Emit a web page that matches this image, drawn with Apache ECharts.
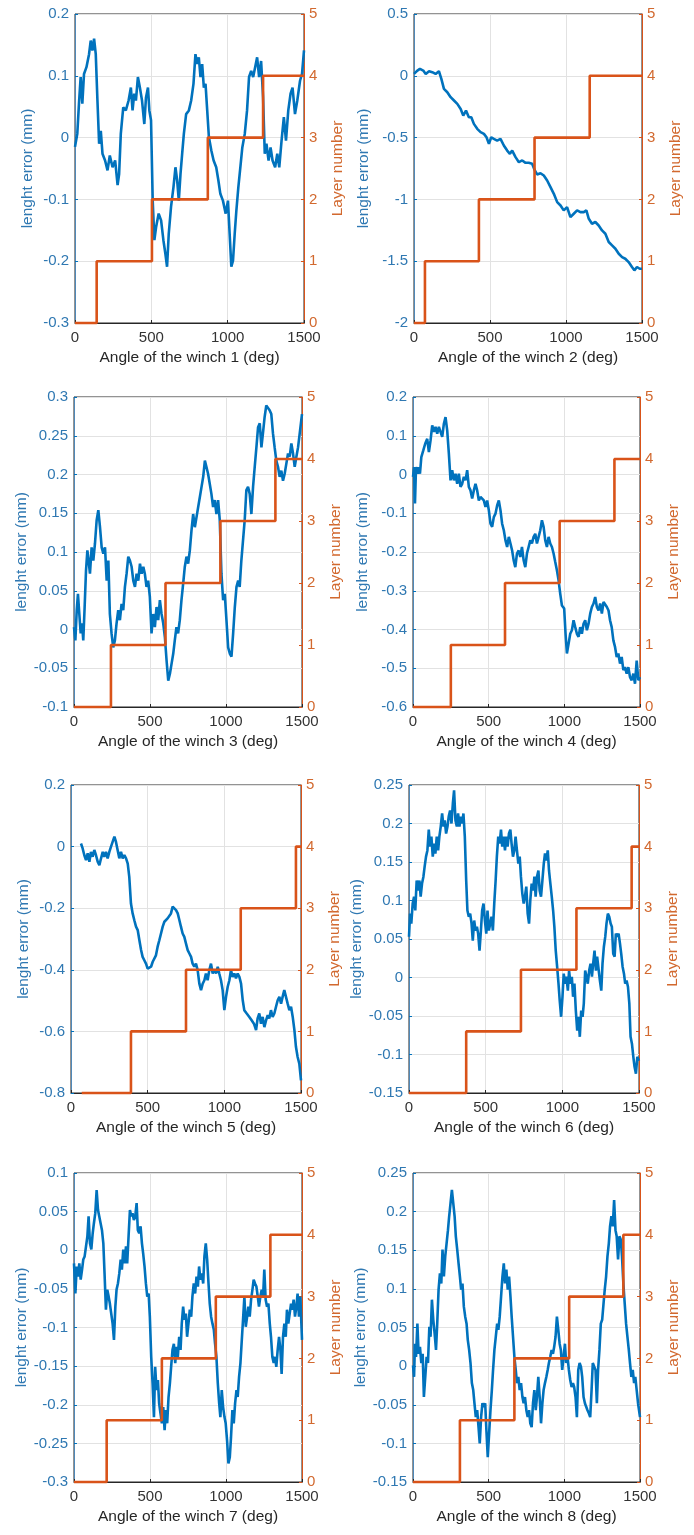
<!DOCTYPE html>
<html>
<head>
<meta charset="utf-8">
<script src="https://cdn.jsdelivr.net/npm/echarts@6/dist/echarts.min.js"></script>
<style>
html,body{margin:0;padding:0;background:#fff;}
#chart{width:694px;height:1535px;}
</style>
</head>
<body>
<div id="chart"></div>
<script>
// ---------- DATA ----------
const angle1 = [0,15,26,37,48,59,75,92,103,114,125,136,147,158,169,180,197,213,228,246,263,279,289,300,316,333,351,366,377,388,399,412,425,439,454,465,478,487,498,509,520,531,548,564,579,592,603,614,629,645,658,669,680,691,702,713,728,746,761,776,789,800,811,822,833,844,855,866,877,893,908,925,939,952,969,987,1002,1013,1024,1035,1046,1057,1070,1083,1096,1112,1127,1140,1154,1167,1180,1193,1206,1219,1232,1243,1254,1268,1281,1294,1311,1325,1338,1353,1368,1382,1397,1412,1425,1441,1456,1474,1487,1500];
const error1 = [-0.015,0.006,0.055,0.098,0.055,0.103,0.114,0.135,0.157,0.141,0.160,0.135,0.060,-0.010,0.011,-0.026,-0.037,-0.053,-0.029,-0.048,-0.037,-0.077,-0.059,0.006,0.049,0.044,0.060,0.081,0.044,0.071,0.060,0.098,0.081,0.060,0.022,0.065,0.081,0.044,0.028,-0.102,-0.166,-0.145,-0.123,-0.134,-0.166,-0.188,-0.209,-0.156,-0.112,-0.080,-0.048,-0.069,-0.102,-0.059,-0.026,0.006,0.038,0.044,0.060,0.087,0.135,0.119,0.130,0.098,0.119,0.081,0.087,0.044,0.001,-0.021,-0.037,-0.048,-0.069,-0.091,-0.102,-0.123,-0.102,-0.156,-0.209,-0.199,-0.156,-0.118,-0.080,-0.048,-0.016,0.006,0.044,0.098,0.108,0.098,0.114,0.130,0.098,0.124,0.065,-0.026,-0.010,-0.037,-0.016,-0.037,-0.048,-0.026,-0.048,-0.005,0.033,-0.005,0.044,0.071,0.081,0.038,0.060,0.092,0.103,0.141];

const angle2 = [0,22,39,61,77,99,120,142,164,180,197,219,241,263,285,307,324,342,361,377,394,416,438,460,477,493,508,525,547,569,591,613,631,646,668,690,712,734,755,777,795,810,832,854,876,898,920,942,964,985,1007,1029,1051,1073,1095,1117,1134,1150,1171,1193,1215,1237,1259,1281,1303,1325,1347,1369,1390,1412,1434,1450,1467,1485,1500];
const error2 = [0.015,0.042,0.056,0.042,0.015,0.037,0.029,0.015,0.037,-0.025,-0.106,-0.133,-0.173,-0.200,-0.227,-0.268,-0.322,-0.281,-0.335,-0.335,-0.389,-0.429,-0.456,-0.470,-0.497,-0.551,-0.497,-0.510,-0.524,-0.510,-0.564,-0.605,-0.631,-0.605,-0.658,-0.699,-0.685,-0.704,-0.704,-0.712,-0.766,-0.798,-0.788,-0.807,-0.847,-0.901,-0.955,-1.022,-1.049,-1.089,-1.062,-1.143,-1.116,-1.089,-1.103,-1.103,-1.089,-1.157,-1.197,-1.183,-1.211,-1.251,-1.278,-1.345,-1.372,-1.399,-1.440,-1.467,-1.480,-1.507,-1.547,-1.574,-1.547,-1.561,-1.561];

const angle3 = [0,9,18,26,35,44,53,61,70,79,88,96,105,116,127,138,149,160,171,182,193,204,215,226,236,247,258,269,280,291,302,313,324,335,346,357,368,379,390,401,412,423,434,445,456,466,477,488,499,510,521,532,543,554,565,576,587,598,609,620,631,642,653,663,674,685,696,707,718,729,740,751,762,773,784,795,806,817,828,839,850,861,871,882,893,904,915,926,937,948,959,970,981,992,1003,1014,1025,1036,1047,1058,1069,1080,1090,1101,1112,1123,1134,1145,1156,1167,1178,1189,1200,1211,1222,1233,1243,1254,1265,1276,1287,1298,1309,1320,1331,1342,1353,1364,1375,1386,1397,1408,1419,1430,1441,1452,1463,1474,1485,1500];
const error3 = [0.003,-0.014,0.025,0.046,0.020,-0.005,0.008,-0.014,0.029,0.076,0.102,0.089,0.072,0.106,0.089,0.111,0.141,0.154,0.132,0.106,0.098,0.106,0.063,0.089,0.020,-0.005,-0.023,-0.014,0.008,0.025,0.012,0.033,0.025,0.055,0.072,0.094,0.089,0.081,0.063,0.055,0.072,0.063,0.085,0.072,0.081,0.072,0.055,0.063,0.042,-0.005,0.020,0.003,0.029,0.012,0.038,0.020,0.008,-0.010,-0.040,-0.066,-0.057,-0.044,-0.031,-0.014,0.003,-0.005,0.012,0.038,0.059,0.081,0.094,0.085,0.102,0.128,0.149,0.132,0.145,0.158,0.171,0.184,0.197,0.218,0.210,0.201,0.188,0.175,0.158,0.167,0.149,0.167,0.141,0.072,0.038,0.046,0.012,-0.023,-0.031,-0.035,-0.005,0.029,0.055,0.063,0.055,0.089,0.115,0.141,0.180,0.184,0.175,0.149,0.184,0.210,0.235,0.261,0.266,0.235,0.253,0.274,0.289,0.287,0.283,0.278,0.253,0.235,0.218,0.210,0.197,0.205,0.192,0.201,0.214,0.227,0.223,0.240,0.227,0.210,0.223,0.235,0.253,0.278];

const angle4 = [0,7,13,20,29,37,46,55,68,81,94,105,116,127,138,149,160,171,182,193,204,215,226,237,248,259,270,281,292,303,314,325,336,347,358,369,380,391,402,413,424,435,446,457,468,479,490,501,512,523,534,545,556,567,578,589,600,611,622,633,644,655,665,676,687,698,709,720,731,742,753,764,775,786,797,808,819,830,841,852,863,874,885,896,907,918,929,940,951,962,973,984,999,1008,1017,1028,1039,1050,1061,1072,1083,1094,1105,1116,1127,1138,1149,1160,1171,1182,1193,1204,1215,1226,1237,1248,1259,1270,1281,1292,1302,1313,1324,1335,1346,1357,1368,1379,1390,1401,1412,1423,1434,1445,1456,1467,1478,1489,1500];
const error4 = [-0.006,0.019,-0.075,0.019,0.002,0.019,0.002,0.045,0.062,0.080,0.092,0.058,0.088,0.127,0.110,0.123,0.105,0.123,0.110,0.097,0.131,0.148,0.114,0.054,-0.015,0.011,-0.015,0.002,-0.024,0.002,-0.032,-0.024,-0.006,-0.015,0.011,-0.032,-0.041,-0.062,-0.041,-0.024,-0.041,-0.067,-0.058,-0.058,-0.067,-0.084,-0.067,-0.092,-0.127,-0.135,-0.110,-0.101,-0.080,-0.067,-0.092,-0.127,-0.144,-0.170,-0.187,-0.161,-0.178,-0.196,-0.221,-0.239,-0.204,-0.196,-0.213,-0.187,-0.221,-0.239,-0.204,-0.187,-0.170,-0.178,-0.161,-0.153,-0.178,-0.161,-0.144,-0.118,-0.135,-0.170,-0.187,-0.161,-0.178,-0.187,-0.204,-0.226,-0.247,-0.273,-0.308,-0.338,-0.346,-0.411,-0.462,-0.437,-0.411,-0.402,-0.376,-0.394,-0.411,-0.419,-0.394,-0.411,-0.385,-0.376,-0.402,-0.385,-0.359,-0.342,-0.333,-0.316,-0.342,-0.351,-0.333,-0.359,-0.329,-0.333,-0.342,-0.351,-0.376,-0.394,-0.428,-0.445,-0.471,-0.462,-0.488,-0.471,-0.505,-0.497,-0.514,-0.497,-0.523,-0.531,-0.514,-0.540,-0.480,-0.531,-0.523];

const angle5 = [65,76,87,98,109,120,130,141,152,163,174,185,196,207,217,228,239,250,261,272,283,293,304,315,326,337,348,359,370,380,391,402,413,424,435,446,457,467,478,489,500,511,522,533,543,554,565,576,587,598,609,620,630,641,652,663,674,685,696,707,717,728,739,750,761,772,783,793,804,815,826,837,848,859,870,880,891,902,913,924,935,946,957,967,978,989,1000,1011,1022,1033,1043,1054,1065,1076,1087,1098,1109,1120,1130,1146,1163,1178,1193,1207,1217,1228,1239,1250,1261,1272,1283,1293,1304,1315,1326,1337,1348,1359,1370,1380,1391,1402,1413,1424,1435,1446,1457,1467,1478,1489,1500];
const error5 = [0.010,-0.006,-0.028,-0.044,-0.022,-0.049,-0.017,-0.033,-0.011,-0.028,-0.049,-0.060,-0.038,-0.017,-0.033,-0.017,-0.038,-0.017,0.000,0.016,0.032,0.016,-0.011,-0.038,-0.017,-0.038,-0.028,-0.038,-0.055,-0.098,-0.185,-0.217,-0.239,-0.260,-0.271,-0.304,-0.336,-0.358,-0.369,-0.380,-0.396,-0.401,-0.390,-0.374,-0.369,-0.353,-0.325,-0.304,-0.282,-0.260,-0.244,-0.239,-0.233,-0.233,-0.217,-0.195,-0.195,-0.206,-0.217,-0.239,-0.260,-0.282,-0.293,-0.315,-0.336,-0.347,-0.358,-0.380,-0.390,-0.380,-0.401,-0.445,-0.466,-0.445,-0.434,-0.412,-0.434,-0.401,-0.380,-0.412,-0.401,-0.412,-0.390,-0.412,-0.434,-0.466,-0.531,-0.488,-0.455,-0.434,-0.401,-0.423,-0.412,-0.428,-0.412,-0.423,-0.445,-0.499,-0.531,-0.542,-0.553,-0.564,-0.575,-0.596,-0.558,-0.542,-0.575,-0.553,-0.586,-0.564,-0.547,-0.558,-0.531,-0.553,-0.542,-0.520,-0.499,-0.488,-0.510,-0.488,-0.466,-0.488,-0.510,-0.531,-0.520,-0.553,-0.596,-0.650,-0.683,-0.705,-0.759];

const angle6 = [0,7,15,24,33,41,50,59,68,76,85,94,102,111,120,129,137,146,155,164,172,181,190,198,207,216,225,233,242,251,259,268,277,286,294,303,312,320,329,338,347,355,364,373,381,390,399,408,416,425,434,443,451,460,469,477,486,495,504,512,521,530,538,547,556,565,573,582,591,600,608,617,626,634,643,652,661,669,678,687,695,704,713,722,730,739,748,756,765,774,783,791,800,809,818,826,835,844,852,861,870,879,887,896,905,913,922,931,940,948,957,966,975,983,992,1001,1009,1018,1027,1036,1044,1053,1062,1070,1079,1088,1097,1105,1114,1123,1132,1140,1149,1158,1166,1175,1184,1193,1201,1210,1219,1227,1236,1245,1254,1262,1271,1280,1288,1297,1306,1315,1323,1332,1341,1349,1358,1367,1376,1384,1393,1402,1410,1419,1428,1437,1445,1454,1463,1471,1480,1489,1500];
const error6 = [0.053,0.083,0.070,0.096,0.105,0.087,0.126,0.113,0.126,0.105,0.122,0.131,0.144,0.157,0.165,0.192,0.170,0.183,0.157,0.174,0.161,0.183,0.165,0.183,0.196,0.213,0.196,0.204,0.187,0.196,0.209,0.217,0.200,0.226,0.243,0.204,0.196,0.213,0.196,0.209,0.200,0.213,0.183,0.126,0.087,0.079,0.083,0.070,0.048,0.074,0.061,0.066,0.057,0.035,0.061,0.087,0.096,0.074,0.057,0.087,0.061,0.070,0.079,0.061,0.096,0.126,0.157,0.183,0.174,0.192,0.170,0.183,0.165,0.183,0.170,0.187,0.192,0.174,0.157,0.165,0.183,0.165,0.148,0.157,0.131,0.109,0.096,0.105,0.118,0.083,0.070,0.100,0.122,0.113,0.131,0.105,0.131,0.139,0.113,0.105,0.126,0.148,0.161,0.152,0.165,0.139,0.122,0.105,0.087,0.066,0.035,0.014,-0.008,-0.030,-0.051,-0.025,0.005,-0.008,0.001,-0.017,0.009,-0.008,0.001,-0.025,-0.008,-0.043,-0.069,-0.051,-0.077,-0.043,-0.051,-0.034,0.009,0.001,-0.008,0.009,0.018,0.001,0.018,0.035,0.009,0.027,0.027,-0.004,-0.017,0.018,0.040,0.053,0.070,0.083,0.079,0.070,0.066,0.031,0.027,0.057,0.053,0.057,0.044,0.031,0.014,0.005,-0.008,-0.004,-0.012,-0.034,-0.077,-0.086,-0.103,-0.116,-0.125,-0.103,-0.108];

const angle7 = [0,9,18,26,35,44,53,61,70,79,88,96,105,114,123,131,140,149,158,166,175,184,193,201,210,219,228,236,245,254,263,272,280,289,298,307,315,324,333,342,350,359,368,377,385,394,403,412,420,429,438,447,455,464,473,482,491,499,508,517,526,534,543,552,560,569,578,587,596,604,613,622,631,639,648,657,666,674,683,692,701,709,718,727,736,744,753,762,771,779,788,797,806,815,823,832,841,850,858,867,876,885,893,902,911,920,928,937,946,955,963,972,981,990,998,1007,1016,1025,1033,1042,1051,1060,1069,1077,1086,1095,1104,1112,1121,1130,1139,1147,1156,1165,1174,1182,1191,1200,1209,1217,1226,1235,1244,1252,1261,1270,1279,1288,1296,1305,1314,1323,1331,1340,1349,1358,1366,1375,1384,1393,1401,1410,1419,1428,1436,1445,1454,1463,1471,1480,1489,1500];
const error7 = [-0.017,-0.056,-0.021,-0.034,-0.017,-0.038,-0.025,-0.012,-0.008,0.005,0.018,0.044,0.009,0.001,0.022,0.035,0.048,0.078,0.052,0.044,0.035,0.026,0.009,-0.030,-0.077,-0.051,-0.060,-0.069,-0.082,-0.095,-0.116,-0.073,-0.051,-0.043,-0.030,-0.012,-0.025,0.001,-0.017,0.005,-0.017,0.018,0.052,0.044,0.048,0.039,0.044,0.061,0.026,0.022,0.031,0.009,-0.004,-0.021,-0.043,-0.060,-0.056,-0.086,-0.138,-0.172,-0.216,-0.151,-0.181,-0.168,-0.198,-0.211,-0.224,-0.203,-0.233,-0.207,-0.224,-0.190,-0.172,-0.151,-0.129,-0.121,-0.146,-0.125,-0.138,-0.112,-0.129,-0.095,-0.073,-0.090,-0.082,-0.112,-0.095,-0.077,-0.086,-0.060,-0.043,-0.056,-0.034,-0.047,-0.021,-0.038,-0.030,-0.043,-0.008,0.009,-0.012,-0.043,-0.069,-0.086,-0.095,-0.103,-0.121,-0.138,-0.172,-0.198,-0.216,-0.181,-0.203,-0.216,-0.224,-0.246,-0.276,-0.268,-0.242,-0.207,-0.224,-0.198,-0.181,-0.190,-0.164,-0.146,-0.116,-0.090,-0.060,-0.099,-0.086,-0.073,-0.086,-0.064,-0.051,-0.038,-0.043,-0.047,-0.060,-0.073,-0.060,-0.051,-0.060,-0.025,-0.064,-0.073,-0.069,-0.095,-0.112,-0.138,-0.146,-0.138,-0.151,-0.129,-0.112,-0.129,-0.160,-0.112,-0.095,-0.112,-0.077,-0.095,-0.082,-0.069,-0.077,-0.064,-0.086,-0.073,-0.056,-0.086,-0.060,-0.116];

const angle8 = [0,7,13,20,29,37,46,55,64,72,81,90,99,108,116,125,134,143,152,160,169,178,187,195,204,213,222,231,239,248,257,266,275,283,292,301,310,318,327,336,345,354,362,371,380,389,398,406,415,424,433,441,450,459,468,477,485,494,503,512,521,529,538,547,556,564,573,582,591,600,608,617,626,635,644,652,661,670,679,687,696,705,714,723,731,740,749,758,767,775,784,793,802,811,819,828,837,846,855,863,872,881,890,898,907,916,925,933,942,951,960,969,977,986,995,1004,1012,1021,1030,1039,1048,1057,1065,1074,1083,1092,1101,1110,1118,1127,1136,1145,1153,1162,1171,1180,1188,1197,1206,1215,1223,1232,1241,1250,1259,1267,1276,1285,1294,1302,1311,1320,1329,1338,1346,1355,1364,1373,1381,1390,1399,1408,1417,1426,1434,1443,1452,1461,1469,1478,1487,1500];
const error8 = [0.001,-0.014,0.029,0.012,0.055,0.016,0.025,0.004,0.016,-0.040,-0.014,0.012,0.004,0.051,0.038,0.086,0.060,0.042,0.021,0.055,0.099,0.120,0.107,0.151,0.116,0.142,0.159,0.176,0.194,0.211,0.228,0.211,0.194,0.168,0.151,0.133,0.116,0.099,0.107,0.077,0.064,0.055,0.034,0.021,0.004,-0.022,-0.031,-0.048,-0.066,-0.057,-0.079,-0.100,-0.066,-0.048,-0.053,-0.048,-0.083,-0.118,-0.087,-0.057,-0.031,-0.005,0.021,0.038,0.055,0.047,0.064,0.090,0.116,0.133,0.107,0.125,0.099,0.116,0.090,0.064,0.038,0.012,-0.005,-0.022,-0.014,-0.031,-0.022,-0.040,-0.048,-0.040,-0.057,-0.066,-0.057,-0.074,-0.079,-0.048,-0.031,-0.057,-0.040,-0.014,-0.040,-0.074,-0.048,-0.031,-0.022,-0.014,-0.005,0.004,0.012,0.021,0.016,0.025,0.038,0.064,0.047,0.029,0.021,-0.005,0.012,0.029,0.004,0.012,-0.005,-0.018,-0.027,-0.022,-0.027,-0.040,-0.066,-0.005,0.004,-0.001,-0.014,-0.040,-0.048,-0.053,-0.057,-0.061,-0.066,-0.031,0.004,0.004,-0.005,-0.048,-0.005,0.021,0.055,0.060,0.081,0.099,0.116,0.142,0.159,0.181,0.194,0.181,0.215,0.176,0.168,0.138,0.168,0.164,0.142,0.107,0.081,0.055,0.038,0.021,0.004,-0.014,-0.005,-0.022,-0.014,-0.031,-0.048,-0.066];

// angle at which each layer begins, and the layer numbers
const layerNumbers = [0, 1, 2, 3, 4];
const layerStart1 = [0, 142, 504, 870, 1232];
const layerStart2 = [0, 72, 427, 793, 1156];
const layerStart3 = [0, 243, 602, 963, 1325];
const layerStart4 = [0, 250, 608, 969, 1331];
const layerStart5 = [70, 391, 750, 1107, 1467];
const layerStart6 = [0, 373, 730, 1092, 1452];
const layerStart7 = [0, 215, 578, 933, 1292];
const layerStart8 = [0, 310, 670, 1032, 1390];
const angleEnd = 1500;

// left axis ranges [min, max, interval]
const errRange1 = [-0.3, 0.2, 0.1];
const errRange2 = [-2, 0.5, 0.5];
const errRange3 = [-0.1, 0.3, 0.05];
const errRange4 = [-0.6, 0.2, 0.1];
const errRange5 = [-0.8, 0.2, 0.2];
const errRange6 = [-0.15, 0.25, 0.05];
const errRange7 = [-0.3, 0.1, 0.05];
const errRange8 = [-0.15, 0.25, 0.05];
const angleRange = [0, 1500, 500];
const layerRange = [0, 5, 1];

const winches = [
  {n:1, a:angle1, e:error1, s:layerStart1, r:errRange1},
  {n:2, a:angle2, e:error2, s:layerStart2, r:errRange2},
  {n:3, a:angle3, e:error3, s:layerStart3, r:errRange3},
  {n:4, a:angle4, e:error4, s:layerStart4, r:errRange4},
  {n:5, a:angle5, e:error5, s:layerStart5, r:errRange5},
  {n:6, a:angle6, e:error6, s:layerStart6, r:errRange6},
  {n:7, a:angle7, e:error7, s:layerStart7, r:errRange7},
  {n:8, a:angle8, e:error8, s:layerStart8, r:errRange8}
];

// ---------- LAYOUT ----------
const grids = [
  {left:75, right:694-304, top:14, bottom:1535-323},
  {left:414, right:694-642, top:14, bottom:1535-323},
  {left:74, right:694-302, top:397, bottom:1535-707},
  {left:413, right:694-640, top:397, bottom:1535-707},
  {left:71, right:694-301, top:785, bottom:1535-1093},
  {left:409, right:694-639, top:785, bottom:1535-1093},
  {left:74, right:694-302, top:1173, bottom:1535-1482},
  {left:413, right:694-640, top:1173, bottom:1535-1482}
];

const BLUE = '#0072BD', ORANGE = '#D95319';
const BLUE_TXT = '#2F78B2', ORANGE_TXT = '#D2692F';
const DARK = '#262626';
const FONT = 'Liberation Sans, Arial, Helvetica, sans-serif';
const fmt = v => String(Number(v.toFixed(3)));

const option = {
  animation:false,
  backgroundColor:'#fff',
  grid:[], xAxis:[], yAxis:[], series:[]
};

winches.forEach((w, i) => {
  const g = grids[i];
  option.grid.push(Object.assign({show:true, borderColor:DARK, borderWidth:1, backgroundColor:'transparent'}, g));
  option.xAxis.push({
    type:'value', gridIndex:i, min:angleRange[0], max:angleRange[1], interval:angleRange[2],
    name:'Angle of the winch ' + w.n + ' (deg)', nameLocation:'middle', nameGap:27,
    nameTextStyle:{color:DARK, fontSize:15.5, fontFamily:FONT},
    axisLine:{show:true, onZero:false, lineStyle:{color:DARK, width:1}},
    axisTick:{show:true, inside:true, length:3, lineStyle:{color:DARK}},
    axisLabel:{color:'#333', fontSize:15, fontFamily:FONT, margin:7, formatter:fmt},
    splitLine:{show:true, lineStyle:{color:'#e2e2e2', width:1}}
  });
  option.yAxis.push({
    type:'value', gridIndex:i, position:'left', min:w.r[0], max:w.r[1], interval:w.r[2],
    name:'lenght error (mm)', nameLocation:'middle', nameGap:i%2===0 ? 39 : 42,
    nameTextStyle:{color:BLUE_TXT, fontSize:15.5, fontFamily:FONT},
    axisLine:{show:true, onZero:false, lineStyle:{color:'#4F88B8', width:1}},
    axisTick:{show:true, inside:true, length:3, lineStyle:{color:BLUE}},
    axisLabel:{color:BLUE_TXT, fontSize:15, fontFamily:FONT, margin:6, formatter:fmt},
    splitLine:{show:true, lineStyle:{color:'#e2e2e2', width:1}}
  });
  option.yAxis.push({
    type:'value', gridIndex:i, position:'right', min:layerRange[0], max:layerRange[1], interval:layerRange[2],
    name:'Layer number', nameLocation:'middle', nameGap:26,
    nameTextStyle:{color:ORANGE_TXT, fontSize:15.5, fontFamily:FONT},
    axisLine:{show:true, onZero:false, lineStyle:{color:ORANGE, width:1}},
    axisTick:{show:true, inside:true, length:3, lineStyle:{color:ORANGE}},
    axisLabel:{color:ORANGE_TXT, fontSize:15, fontFamily:FONT, margin:5},
    splitLine:{show:false}
  });
  option.series.push({
    type:'line', xAxisIndex:i, yAxisIndex:2*i, showSymbol:false, symbol:'none',
    data:w.a.map((x, k) => [x, w.e[k]]),
    lineStyle:{color:BLUE, width:2.6}, z:2, clip:true
  });
  const stepData = w.s.map((x, k) => [x, layerNumbers[k]]);
  stepData.push([angleEnd, layerNumbers[layerNumbers.length - 1]]);
  option.series.push({
    type:'line', xAxisIndex:i, yAxisIndex:2*i+1, showSymbol:false, symbol:'none', step:'end',
    data:stepData,
    lineStyle:{color:ORANGE, width:2.6}, z:3, clip:false
  });
});

const chart = echarts.init(document.getElementById('chart'), null, {renderer:'canvas'});
chart.setOption(option);
</script>
</body>
</html>
